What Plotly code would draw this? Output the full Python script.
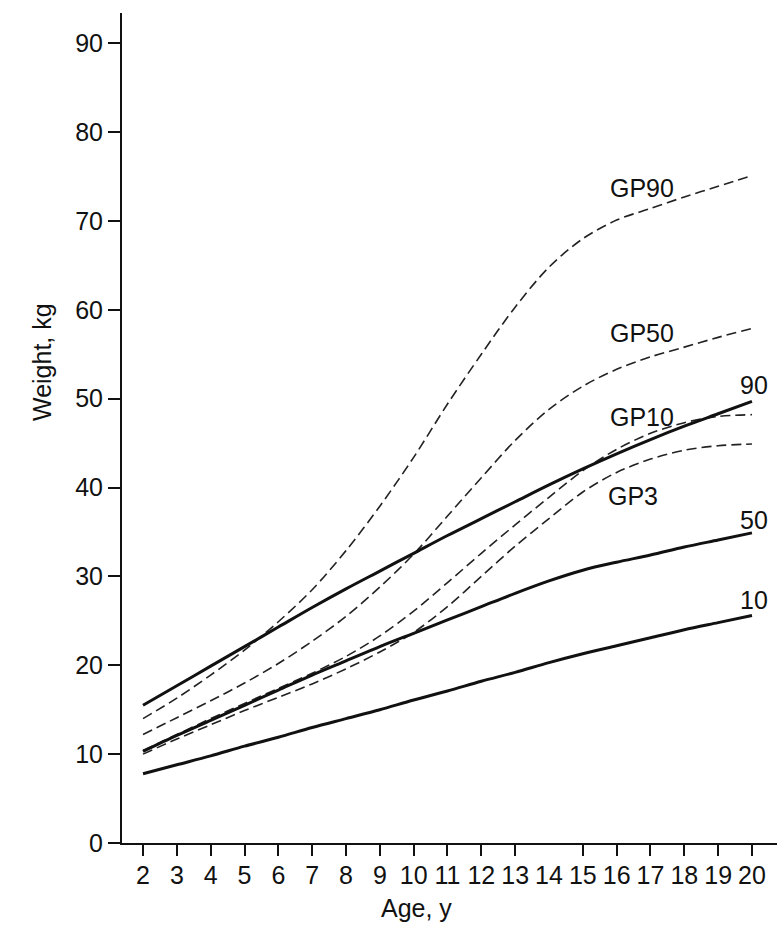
import plotly.graph_objects as go

ages = list(range(2, 21))

# Solid percentile curves (weight, kg)
p90 = [15.5, 17.7, 19.9, 22.1, 24.3, 26.5, 28.6, 30.6, 32.6, 34.6, 36.5, 38.4, 40.3, 42.1, 43.8, 45.4, 46.9, 48.3, 49.7]
p50 = [10.3, 12.1, 13.8, 15.5, 17.2, 18.9, 20.5, 22.1, 23.6, 25.1, 26.6, 28.1, 29.5, 30.7, 31.6, 32.4, 33.3, 34.1, 34.9]
p10 = [7.8, 8.8, 9.8, 10.9, 11.9, 13.0, 14.0, 15.0, 16.1, 17.1, 18.2, 19.2, 20.3, 21.3, 22.2, 23.1, 24.0, 24.8, 25.6]

# Dashed GP curves
gp90 = [14.0, 16.3, 18.9, 21.7, 24.9, 28.5, 32.9, 37.9, 43.4, 49.4, 55.0, 60.3, 64.8, 68.0, 70.1, 71.4, 72.7, 73.9, 75.1]
gp50 = [12.2, 14.1, 16.0, 18.0, 20.2, 22.7, 25.5, 28.8, 32.5, 36.8, 41.1, 45.3, 48.8, 51.4, 53.3, 54.7, 55.8, 56.9, 57.9]
gp10 = [10.4, 12.2, 14.0, 15.7, 17.4, 19.1, 21.0, 23.3, 26.1, 29.3, 32.6, 35.8, 38.9, 41.9, 44.3, 46.1, 47.3, 48.0, 48.2]
gp3 = [10.0, 11.7, 13.3, 14.9, 16.4, 17.9, 19.6, 21.5, 23.7, 26.6, 30.0, 33.4, 36.5, 39.5, 41.7, 43.2, 44.2, 44.7, 44.9]

solid_series = [("90", p90), ("50", p50), ("10", p10)]
dashed_series = [("GP90", gp90), ("GP50", gp50), ("GP10", gp10), ("GP3", gp3)]

# label positions (x, y) for curve labels
curve_labels = ["GP90", "GP50", "GP10", "GP3", "90", "50", "10"]
label_x = [15.75, 15.75, 15.75, 15.7, 19.6, 19.6, 19.6]
label_y = [73.7, 57.4, 47.9, 39.1, 51.5, 36.3, 27.3]

x_tick_marks = [v for v in ages if v != 14]
x_tick_labels = [str(v) for v in ages]
y_ticks = list(range(0, 100, 10))

FONT = "Liberation Sans, Arial, sans-serif"
FS = 25
TXT = "#111"

fig = go.Figure()
for name, ys in dashed_series:
    fig.add_trace(go.Scatter(x=ages, y=ys, mode="lines", name=name,
                             line=dict(color="#222", width=1.6, dash="10px,5px", shape="spline", smoothing=0.9)))
for name, ys in solid_series:
    fig.add_trace(go.Scatter(x=ages, y=ys, mode="lines", name=name,
                             line=dict(color="#111", width=3, shape="spline", smoothing=0.9)))
# invisible trace to carry the label axis
fig.add_trace(go.Scatter(x=ages, y=[None] * len(ages), xaxis="x2", mode="lines",
                         showlegend=False, hoverinfo="skip"))

for t, lx, ly in zip(curve_labels, label_x, label_y):
    fig.add_annotation(x=lx, y=ly, text=t, showarrow=False, xanchor="left", yanchor="middle",
                       font=dict(size=FS, color=TXT, family=FONT))

# plot area in pixels: x 122..777, y 13..843
PW, PH = 655, 830
fig.add_annotation(x=(416 - 122) / PW, y=-(908 - 843) / PH, xref="paper", yref="paper",
                   xanchor="center", yanchor="middle", text="Age, y", showarrow=False,
                   font=dict(size=FS, color=TXT, family=FONT))
fig.add_annotation(x=(42 - 122) / PW, y=(843 - 362) / PH, xref="paper", yref="paper",
                   xanchor="center", yanchor="middle", text="Weight, kg",
                   textangle=-90, showarrow=False, font=dict(size=FS, color=TXT, family=FONT))

xr = [1.379, 20.74]
fig.update_layout(
    width=780, height=941,
    margin=dict(l=122, r=3, t=13, b=98),
    paper_bgcolor="white", plot_bgcolor="white",
    showlegend=False,
    font=dict(family=FONT, size=FS, color=TXT),
    xaxis=dict(range=xr, tickmode="array", tickvals=x_tick_marks, showticklabels=False,
               ticks="outside", ticklen=11, tickwidth=1.5, tickcolor="#111",
               showline=True, linecolor="#111", linewidth=2, showgrid=False, zeroline=False),
    xaxis2=dict(range=xr, overlaying="x", anchor="y", side="bottom", tickmode="array",
                tickvals=ages, ticktext=x_tick_labels, ticks="outside", ticklen=10,
                tickcolor="rgba(0,0,0,0)", showline=False, showgrid=False, zeroline=False,
                tickfont=dict(size=FS, color=TXT, family=FONT)),
    yaxis=dict(range=[0, 93.4], tickmode="array", tickvals=y_ticks,
               ticks="outside", ticklen=12, tickwidth=1.5, tickcolor="#111",
               showline=True, linecolor="#111", linewidth=2, showgrid=False, zeroline=False,
               tickfont=dict(size=FS, color=TXT, family=FONT)),
)

fig.write_html("out.html")
